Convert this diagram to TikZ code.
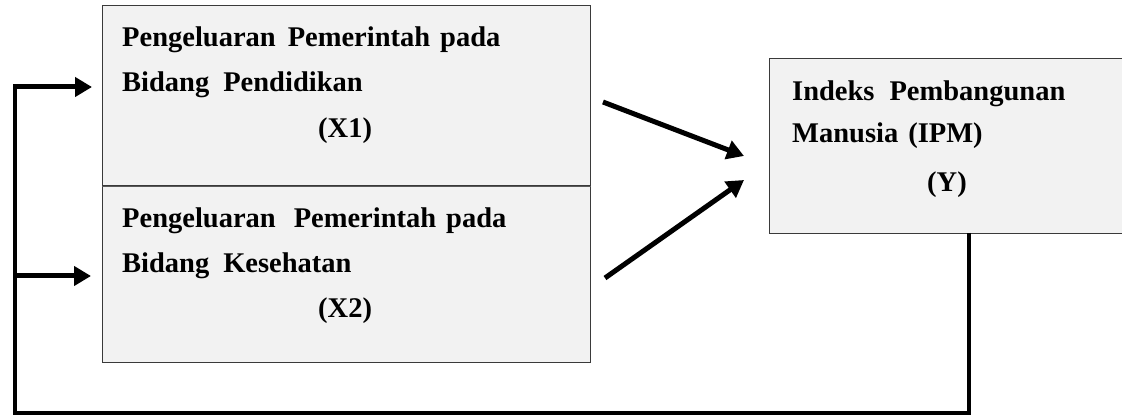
\documentclass[tikz,border=0pt]{standalone}
\usepackage{fontspec}
\setmainfont{Liberation Serif}
\usetikzlibrary{arrows.meta}
\definecolor{boxfill}{HTML}{F2F2F2}
\definecolor{boxline}{HTML}{3A3A3A}
\newcommand{\wsp}{\hspace{12pt}}
\begin{document}
\begin{tikzpicture}[x=1pt,y=-1pt,
  varbox/.style={draw=boxline,line width=1.2pt,fill=boxfill,rectangle,inner sep=0pt,anchor=north west},
  lbl/.style={anchor=base west,inner sep=0pt,font=\fontsize{28.5}{32}\selectfont\bfseries},
  thickline/.style={line width=4pt,black},
  arr/.style={line width=5pt,black,-{Triangle[length=17pt,width=19pt]}}
]
\clip (0,0) rectangle (1122,419);
\fill[white] (0,0) rectangle (1122,419);
% boxes
\node[varbox,minimum width=488pt,minimum height=180pt] (bx1) at (102,5) {};
\node[varbox,minimum width=488pt,minimum height=177pt] (bx2) at (102,185) {};
\node[varbox,minimum width=370pt,minimum height=175pt] (by) at (769,58) {};
\draw[gray!70!black,line width=1.2pt] (bx1.south west) -- (bx1.south east);
% texts
\node[lbl] (t1a) at (122,47) {Pengeluaran\wsp Pemerintah\hspace{10pt}pada};
\node[lbl] (t1b) at (122,92) {Bidang\hspace{14pt}Pendidikan};
\node[lbl] (t1c) at (318,138) {(X1)};
\node[lbl] (t2a) at (122,228) {Pengeluaran\hspace{18pt}Pemerintah\hspace{10pt}pada};
\node[lbl] (t2b) at (122,273) {Bidang\hspace{14pt}Kesehatan};
\node[lbl] (t2c) at (318,318) {(X2)};
\node[lbl] (tya) at (792,101) {Indeks\hspace{15pt}Pembangunan};
\node[lbl] (tyb) at (792,143) {Manusia\hspace{10pt}(IPM)};
\node[lbl] (tyc) at (927,192) {(Y)};
% connector coordinates
\coordinate (a1s) at (603,102);
\coordinate (a1e) at (744,156);
\coordinate (a2s) at (605,278);
\coordinate (a2e) at (744,180);
\coordinate (ytop) at (969,233);
\coordinate (ybot) at (969,413);
\coordinate (lbot) at (15,413);
\coordinate (ltop) at (15,87);
\coordinate (lmid) at (15,276);
\coordinate (h1) at (92,87);
\coordinate (h2) at (91,276);
% arrows to Y
\draw[arr] (a1s) -- (a1e);
\draw[arr] (a2s) -- (a2e);
% feedback loop
\draw[thickline] (ytop) -- (ybot) -- (lbot) -- ([yshift=-2pt]ltop);
\draw[arr] ([xshift=-2pt]ltop) -- (h1);
\draw[arr] (lmid) -- (h2);
\end{tikzpicture}
\end{document}
